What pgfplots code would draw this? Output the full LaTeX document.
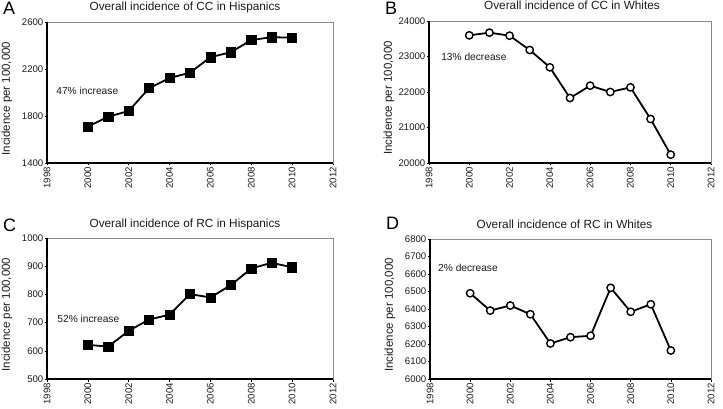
\documentclass[border=0pt]{standalone}
\usepackage{fontspec}
\setmainfont{Liberation Sans}
\usepackage{pgfplots}
\pgfplotsset{compat=1.18}
\definecolor{boxgray}{HTML}{8A8A8A}
\definecolor{txt}{HTML}{1A1A1A}
\tikzset{ann/.style={font=\fontsize{10.2bp}{12bp}\selectfont, text=txt, anchor=west, inner sep=0pt}}
\pgfplotsset{
  panel/.style={
    scale only axis, anchor=south west,
    xmin=1998, xmax=2012, xtick={1998,2000,...,2012},
    scaled ticks=false,
    axis line style={boxgray, line width=0.6bp},
    tick align=outside, major tick length=2.5bp,
    xtick pos=bottom, ytick pos=left,
    tick style={black, line width=0.6bp},
    /pgf/number format/assume math mode=true,
    /pgf/number format/1000 sep={},
    ticklabel style={font=\fontsize{9.6bp}{10bp}\selectfont, text=txt},
    xticklabel style={rotate=90, anchor=east, inner sep=1.5bp},
    yticklabel style={inner sep=1bp},
    ylabel={Incidence per 100,000},
    every axis y label/.style={at={(rel axis cs:0,0.5)}, rotate=90, anchor=center, yshift=40bp, xshift=-6bp, font=\fontsize{11.5bp}{13bp}\selectfont, text=txt, inner sep=0pt},
    every axis title/.style={at={(rel axis cs:0.5,1)}, anchor=base, yshift=11bp, font=\fontsize{11.8bp}{13bp}\selectfont, text=txt, inner sep=0pt},
    after end axis/.code={
      \draw[black, line width=1.2bp] (rel axis cs:0,1) -- (rel axis cs:0,0) -- (rel axis cs:1,0);
    },
    clip=false,
  },
  sq/.style={black, line width=1.8bp, mark=square*, mark size=4.6bp, mark options={solid, fill=black, line width=0.5bp}},
  ci/.style={black, line width=1.8bp, mark=*, mark size=3.7bp, mark options={solid, fill=white, draw=black, line width=1.4bp}},
}
\begin{document}
\begin{tikzpicture}
% Panel A
\begin{axis}[panel, at={(47bp,246bp)}, width=286bp, height=141bp,
  ymin=1400, ymax=2600, ytick={1400,1800,2200,2600},
  title={Overall incidence of CC in Hispanics}, title style={xshift=-5bp}]
\addplot[sq] coordinates {(2000,1710) (2001,1794) (2002,1843) (2003,2037) (2004,2123) (2005,2169) (2006,2300) (2007,2343) (2008,2446) (2009,2471) (2010,2466)};
\node[ann] at (axis cs:1998.45,2010) {47\% increase};
\end{axis}
% Panel B
\begin{axis}[panel, at={(429bp,246bp)}, width=282bp, height=142bp,
  ymin=20000, ymax=24000, ytick={20000,21000,...,24000},
  title={Overall incidence of CC in Whites}, title style={xshift=2bp}]
\addplot[ci] coordinates {(2000,23596) (2001,23671) (2002,23587) (2003,23183) (2004,22695) (2005,21831) (2006,22178) (2007,22000) (2008,22131) (2009,21239) (2010,20235)};
\node[ann] at (axis cs:1998.6,22990) {13\% decrease};
\end{axis}
% Panel C
\begin{axis}[panel, at={(47bp,30bp)}, width=286bp, height=141bp,
  ymin=500, ymax=1000, ytick={500,600,...,1000},
  title={Overall incidence of RC in Hispanics}, title style={xshift=-5bp}]
\addplot[sq] coordinates {(2000,621) (2001,615) (2002,671) (2003,711) (2004,728) (2005,801) (2006,789) (2007,833) (2008,892) (2009,912) (2010,896)};
\node[ann] at (axis cs:1998.5,713) {52\% increase};
\end{axis}
% Panel D
\begin{axis}[panel, at={(430bp,30bp)}, width=281bp, height=140bp,
  ymin=6000, ymax=6800, ytick={6000,6100,...,6800},
  title={Overall incidence of RC in Whites}, title style={xshift=-6bp}]
\addplot[ci] coordinates {(2000,6490) (2001,6391) (2002,6420) (2003,6370) (2004,6203) (2005,6239) (2006,6247) (2007,6521) (2008,6384) (2009,6427) (2010,6163)};
\node[ann] at (axis cs:1998.4,6634) {2\% decrease};
\end{axis}
\begin{scope}[every node/.style={font=\fontsize{18bp}{20bp}\selectfont, anchor=base west, inner sep=0pt, text=black}]
\node at (3bp,394bp) {A};
\node at (385bp,394bp) {B};
\node at (3bp,177bp) {C};
\node at (386bp,179bp) {D};
\end{scope}
\pgfresetboundingbox
\useasboundingbox (0,0) rectangle (723bp,409bp);
\end{tikzpicture}
\end{document}
